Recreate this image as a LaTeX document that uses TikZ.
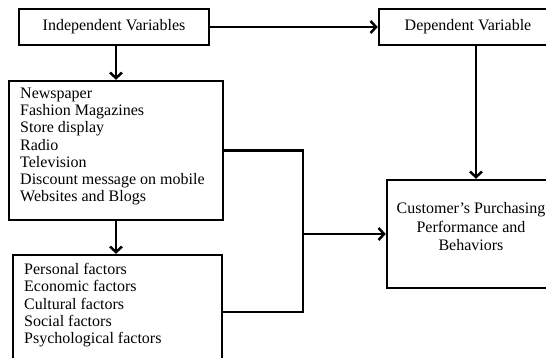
\documentclass[tikz,border=0pt]{standalone}
\usepackage{fontspec}
\setmainfont{Liberation Serif}
\usetikzlibrary{arrows.meta}
\tikzset{
  box/.style={draw, line width=2.5pt, inner sep=0pt, align=center,
    font=\fontsize{16}{17.3}\selectfont},
  txt/.style={inner sep=0pt, font=\fontsize{16}{17.3}\selectfont},
  conn/.style={line width=2.5pt},
  arr/.style={line width=2.5pt, -{Straight Barb[length=5.5pt,width=12pt]}}
}
\begin{document}
\begin{tikzpicture}[x=1pt,y=-1pt]
\useasboundingbox (0,0) rectangle (546,357);
\clip (0,0) rectangle (546,357);
\fill[white] (0,0) rectangle (546,357);
\node[box, minimum width=190pt, minimum height=36pt] (iv) at (114,27) {Independent Variables};
\node[box, minimum width=178pt, minimum height=36pt] (dep) at (468,27) {Dependent Variable};
\node[box, minimum width=214pt, minimum height=139pt] (media) at (116,150.5) {};
\node[box, minimum width=209pt, minimum height=130pt] (fac) at (117.5,320) {};
\node[box, minimum width=168pt, minimum height=108pt] (cust) at (471,234) {};
\node[txt, anchor=north west, align=left] (mediatext) at (20,87.5)
  {Newspaper\\Fashion Magazines\\Store display\\Radio\\Television\\Discount message on mobile\\Websites and Blogs};
\node[txt, anchor=north west, align=left] (factext) at (24,263)
  {Personal factors\\Economic factors\\Cultural factors\\Social factors\\Psychological factors};
\node[txt, anchor=north, align=center, font=\fontsize{16}{18.5}\selectfont] (custtext) at (471,202.5)
  {Customer's Purchasing\\Performance and\\Behaviors};
\coordinate (jb) at (303,312);
\draw[arr] (iv.east) -- (dep.west);
\draw[arr] (media.north |- iv.south) -- (media.north);
\draw[arr] (media.south) -- (media.south |- fac.north);
\draw[conn] (media.east) -| (jb) -- (fac.east |- jb);
\draw[arr] (jb |- cust.west) -- (cust.west);
\draw[arr] ([xshift=8pt]dep.south) -- ([xshift=8pt]dep.south |- cust.north);
\end{tikzpicture}
\end{document}
